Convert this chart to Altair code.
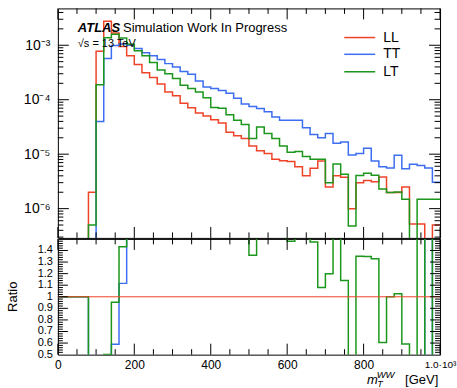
import altair as alt
import pandas as pd

FONT = "Liberation Sans"

# ---------------- data ----------------
series_names = ["LL", "TT", "LT"]
series_colors = ["#ef4328", "#3d6ef2", "#1c961c"]

bin_low = list(range(0, 1000, 20))   # 20 GeV bins, 0..1000
x_max = 1000

ll_values = [0, 0, 0, 0, 2.0e-6, 7.8e-4, 2.75e-3, 1.68e-3, 9.5e-4, 6.4e-4,
             4.45e-4, 3.14e-4, 2.55e-4, 1.95e-4, 1.39e-4, 1.18e-4, 8.6e-5, 7.1e-5, 5.7e-5, 5.0e-5,
             4.3e-5, 3.75e-5, 2.53e-5, 2.17e-5, 1.95e-5, 1.42e-5, 1.16e-5, 1.03e-5, 8.1e-6, 7.6e-6,
             7.3e-6, 5.85e-6, 4.0e-6, 5.5e-6, 7.5e-6, 2.5e-6, 4.0e-6, 3.75e-6, 1.0e-6, 3.0e-6,
             3.3e-6, 3.1e-6, 3.8e-6, 1.97e-6, 1.97e-6, 2.5e-6, 5.2e-7, 5.2e-7, 0, 5.0e-7]
tt_values = [0, 0, 0, 0, 0, 4.0e-5, 5.7e-4, 9.9e-4, 1.06e-3, 1.0e-3,
             8.7e-4, 7.3e-4, 6.4e-4, 5.5e-4, 4.6e-4, 4.0e-4, 3.3e-4, 2.95e-4, 2.2e-4, 1.72e-4,
             1.61e-4, 1.48e-4, 1.31e-4, 1.06e-4, 8.3e-5, 7.5e-5, 6.9e-5, 6.0e-5, 4.8e-5, 4.2e-5,
             4.2e-5, 4.2e-5, 3.05e-5, 2.3e-5, 2.0e-5, 2.4e-5, 1.58e-5, 1.68e-5, 9.7e-6, 1.03e-5,
             1.28e-5, 7.5e-6, 5.9e-6, 5.6e-6, 9.6e-6, 5.4e-6, 6.5e-6, 6.2e-6, 5.6e-6, 3.05e-6]
lt_values = [0, 0, 0, 0, 5.0e-7, 1.89e-4, 1.38e-3, 1.6e-3, 1.36e-3, 1.04e-3,
             7.9e-4, 6.4e-4, 4.8e-4, 3.5e-4, 3.0e-4, 2.44e-4, 1.85e-4, 1.6e-4, 1.39e-4, 1.09e-4,
             7.2e-5, 7.0e-5, 5.3e-5, 4.2e-5, 3.5e-5, 1.93e-5, 3.17e-5, 2.4e-5, 1.93e-5, 1.42e-5,
             1.08e-5, 1.12e-5, 9.1e-6, 8.1e-6, 8.1e-6, 3.0e-6, 6.6e-6, 4.28e-6, 4.8e-7, 4.05e-6,
             4.45e-6, 4.12e-6, 2.3e-6, 1.97e-6, 2.02e-6, 1.48e-6, 0, 1.49e-6, 1.49e-6, 1.49e-6]

# tick / label positions
x_label_values = [0, 200, 400, 600, 800, 1000]
x_minor_ticks = [50, 100, 150, 250, 300, 350, 450, 500, 550, 650, 700, 750, 850, 900, 950]
log_label_values = [1e-6, 1e-5, 1e-4, 1e-3]
ratio_label_values = [0.5, 0.6, 0.7, 0.8, 0.9, 1.0, 1.1, 1.2, 1.3, 1.4]

# ---------------- layout ----------------
W, H1, H2 = 383, 230, 116
Y_DOMAIN = [2.9e-7, 4.75e-3]
R_DOMAIN = [0.5, 1.5]
FLOOR = 1e-12  # empty bins (drawn below the frame, clipped)

log_minor = [m * 10.0 ** k for k in range(-7, -1) for m in range(2, 10)]
log_minor = [v for v in log_minor if Y_DOMAIN[0] < v < Y_DOMAIN[1]]
ratio_minor = [round(0.5 + 0.02 * i, 2) for i in range(51)]
ratio_minor = [v for v in ratio_minor if abs(v * 10 - round(v * 10)) > 1e-6]
ratio_major = ratio_label_values[1:]

rows, rrows = [], []
for name, vals in zip(series_names, [ll_values, tt_values, lt_values]):
    for i, v in enumerate(vals):
        rows.append({"series": name, "x": bin_low[i], "v": max(v, FLOOR)})
    rows.append({"series": name, "x": x_max, "v": max(vals[-1], FLOOR)})
    if name == "LL":
        continue
    rat = []
    for v, ref in zip(vals, ll_values):
        rat.append(v / ref if ref > 0 else (1.0 if v == 0 else 0.0))
    for i, r in enumerate(rat):
        rrows.append({"series": name, "x": bin_low[i], "r": r})
    rrows.append({"series": name, "x": x_max, "r": rat[-1]})
hist_df = pd.DataFrame(rows)
ratio_df = pd.DataFrame(rrows)

xs = alt.Scale(domain=[0, x_max], nice=False, zero=False)
ys = alt.Scale(type="log", domain=Y_DOMAIN, nice=False)
rs = alt.Scale(domain=R_DOMAIN, nice=False, zero=False)
color = alt.Color("series:N", scale=alt.Scale(domain=series_names, range=series_colors), legend=None)


def xticks(vals, length, H, show_axis):
    d = pd.DataFrame({"x": vals})
    b = alt.Chart(d).mark_rule(color="black", strokeWidth=1)
    xe = alt.X("x:Q", scale=xs) if show_axis else alt.X("x:Q", scale=xs, axis=None)
    return [b.encode(x=xe, y=alt.value(0), y2=alt.value(length)),
            b.encode(x=xe, y=alt.value(H - length), y2=alt.value(H))]


def yticks(vals, length, scale, field):
    d = pd.DataFrame({field: vals})
    b = alt.Chart(d).mark_rule(color="black", strokeWidth=1)
    ye = alt.Y(f"{field}:Q", scale=scale)
    return [b.encode(y=ye, x=alt.value(0), x2=alt.value(length)),
            b.encode(y=ye, x=alt.value(W - length), x2=alt.value(W))]


def label(text, x, y, size, style="normal", weight="normal", align="left",
          baseline="alphabetic", angle=0):
    return alt.Chart(pd.DataFrame({"txt": [text]})).mark_text(
        align=align, baseline=baseline, font=FONT, fontSize=size, fontStyle=style,
        fontWeight=weight, color="black", angle=angle
    ).encode(text="txt:N", x=alt.value(x), y=alt.value(y))


log_expr = ("'10' + (round(log(datum.value)/LN10) == -3 ? '⁻³' : "
            "round(log(datum.value)/LN10) == -4 ? '⁻⁴' : "
            "round(log(datum.value)/LN10) == -5 ? '⁻⁵' : '⁻⁶')")

hist = alt.Chart(hist_df).mark_line(interpolate="step-after", strokeWidth=1.5, clip=True).encode(
    x=alt.X("x:Q", scale=xs, axis=None),
    y=alt.Y("v:Q", scale=ys, axis=alt.Axis(values=log_label_values, labelExpr=log_expr, ticks=False,
                                            domain=False, grid=False, title=None, labelFontSize=14,
                                            labelPadding=8, labelFont=FONT, labelColor="black",
                                            labelOverlap=False)),
    color=color,
)

legend_layers = []
legend_y = [29.2, 46.0, 63.5]
for name, yy in zip(series_names, legend_y):
    d = pd.DataFrame({"series": [name]})
    legend_layers.append(alt.Chart(d).mark_rule(strokeWidth=1.5).encode(
        x=alt.value(287), x2=alt.value(318), y=alt.value(yy), color=color))
    legend_layers.append(alt.Chart(d).mark_text(align="left", baseline="middle", font=FONT,
                                                fontSize=14, color="black").encode(
        x=alt.value(326), y=alt.value(yy), text="series:N"))

top = alt.layer(
    hist,
    *xticks(x_label_values, 11, H1, False), *xticks(x_minor_ticks, 5.5, H1, False),
    *yticks(log_label_values, 11, ys, "v"), *yticks(log_minor, 5.5, ys, "v"),
    *legend_layers,
    label("ATLAS", 20, 23.2, 13, style="italic", weight="bold"),
    label("Simulation Work In Progress", 65.3, 23.2, 13),
    label("√s = 13 TeV", 20, 39, 11),
).properties(width=W, height=H1)

ratio_lines = alt.Chart(ratio_df).mark_line(interpolate="step-after", strokeWidth=1.5, clip=True).encode(
    x=alt.X("x:Q", scale=xs, axis=alt.Axis(values=x_label_values, ticks=False, domain=False, grid=False,
                                            title=None,
                                            labelFontSize={"condition": {"test": "datum.value == 1000", "value": 10}, "value": 12},
                                            labelExpr="datum.value == 1000 ? '1.0·10³' : datum.label",
                                            labelPadding=5, labelFlush=False, labelOverlap=False,
                                            labelFont=FONT, labelColor="black")),
    y=alt.Y("r:Q", scale=rs, axis=alt.Axis(labels=False, ticks=False, domain=False, grid=False, title=None)),
    color=color,
)

# ratio axis tick labels, placed through the ratio scale
ratio_text_df = pd.DataFrame({"r": ratio_label_values,
                              "lab": [f"{v:g}" for v in ratio_label_values]})
ratio_text = alt.Chart(ratio_text_df).mark_text(
    align="right", baseline="middle", font=FONT, fontSize=11, color="black", dx=-5
).encode(y=alt.Y("r:Q", scale=rs), x=alt.value(0), text="lab:N")

unity = alt.Chart(pd.DataFrame({"r": [1.0]})).mark_rule(color=series_colors[0], strokeWidth=1).encode(
    y=alt.Y("r:Q", scale=rs), x=alt.value(0), x2=alt.value(W))

bottom = alt.layer(
    ratio_lines, unity, ratio_text,
    *xticks(x_label_values, 11, H2, True), *xticks(x_minor_ticks, 5.5, H2, True),
    *yticks(ratio_major, 10, rs, "r"), *yticks(ratio_minor, 5, rs, "r"),
    label("Ratio", -40.5, 58, 13, align="center", angle=270),
    label("m", 309.7, 145, 13, style="italic"),
    label("T", 320.0, 148, 9, style="italic"),
    label("WW", 319.5, 139.5, 9.5, style="italic"),
    label("[GeV]", 348, 145, 13),
).properties(width=W, height=H2)

chart = alt.vconcat(top, bottom, spacing=-1.5).properties(
    padding={"left": 7, "top": 7, "right": 0, "bottom": 0},
    background="white",
).configure_view(stroke="black", strokeWidth=1).configure_axis(
    grid=False, ticks=False, domain=False, labelOverlap=False, labelFlush=False)

chart.save("out.html", embed_options={"renderer": "svg", "actions": False})
